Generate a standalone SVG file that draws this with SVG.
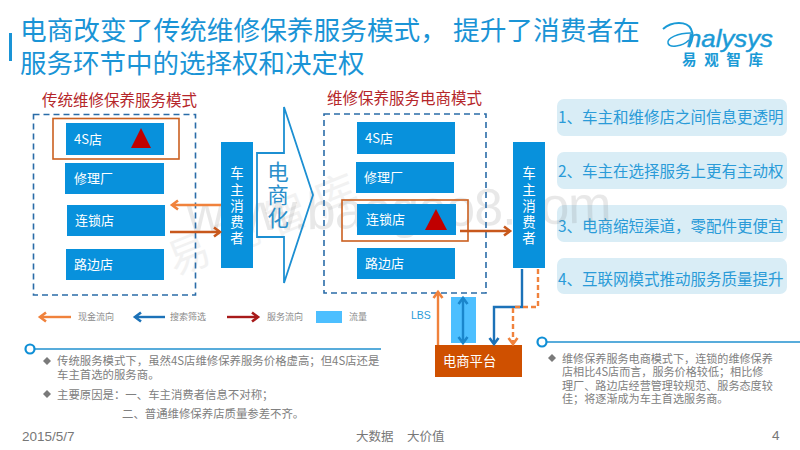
<svg xmlns="http://www.w3.org/2000/svg" width="800" height="450" viewBox="0 0 800 450">
<style>
text{font-family:"Noto Sans CJK SC","Liberation Sans",sans-serif}
.lat{font-family:"Liberation Sans","Noto Sans CJK SC",sans-serif}
.box{fill:#0891dc}
.bt{fill:#fff;font-size:13px}
.vt{fill:#fff;font-size:13.5px;text-anchor:middle}
.dash{fill:none;stroke:#2a6ca8;stroke-width:1.6;stroke-dasharray:6 4}
.sel{fill:none;stroke:#cb6020;stroke-width:1.6}
.tri{fill:#c00000}
.pill{fill:#d9edf6}
.pt{fill:#2a9bd8;font-size:15.5px}
.sub{fill:#b5262a;font-size:15.5px}
.lg{fill:#8a8a8a;font-size:9px}
.note{fill:#808080;font-size:11.4px}
.note2{fill:#808080;font-size:11.1px}
.dia{fill:#7a7a7a}
.foot{fill:#777;font-size:12.5px}
.rule{stroke:#2191cf;stroke-width:1.6;fill:none}
.ring{fill:#fff;stroke:#0f8fd6;stroke-width:2.2}
.ar{fill:none;stroke-width:2.4}
</style>
<defs>
<marker id="mo" markerUnits="userSpaceOnUse" markerWidth="12" markerHeight="12" refX="9" refY="6" orient="auto-start-reverse"><path d="M3,1.500L9,6L3,10.500" fill="none" stroke="#f0823c" stroke-width="2.600"/></marker>
<marker id="md" markerUnits="userSpaceOnUse" markerWidth="12" markerHeight="12" refX="9" refY="6" orient="auto"><path d="M3,1.500L9,6L3,10.500" fill="none" stroke="#c8581c" stroke-width="2.600"/></marker>
<marker id="mb" markerUnits="userSpaceOnUse" markerWidth="12" markerHeight="12" refX="9" refY="6" orient="auto-start-reverse"><path d="M3,1.500L9,6L3,10.500" fill="none" stroke="#1c72b8" stroke-width="2.600"/></marker>
<marker id="mc" markerUnits="userSpaceOnUse" markerWidth="12" markerHeight="12" refX="9" refY="6" orient="auto-start-reverse"><path d="M3,1.500L9,6L3,10.500" fill="none" stroke="#1a86cc" stroke-width="2.600"/></marker>
<marker id="mr" markerUnits="userSpaceOnUse" markerWidth="12" markerHeight="12" refX="9" refY="6" orient="auto"><path d="M3,1.500L9,6L3,10.500" fill="none" stroke="#a81a1a" stroke-width="2.600"/></marker>
</defs>
<rect width="800" height="450" fill="#fff"/>

<g id="pills">
<rect class="pill" x="557" y="99" width="230" height="37" rx="7"/><text class="pt" x="558" y="123">1、车主和维修店之间信息更透明</text>
<rect class="pill" x="557" y="152" width="230" height="37" rx="7"/><text class="pt" x="558" y="177">2、车主在选择服务上更有主动权</text>
<rect class="pill" x="557" y="205" width="230" height="37" rx="7"/><text class="pt" x="558" y="232">3、电商缩短渠道，零配件更便宜</text>
<rect class="pill" x="557" y="258" width="230" height="36" rx="7"/><text class="pt" x="558" y="285">4、互联网模式推动服务质量提升</text>
</g>

<g id="watermark" fill="#777">
<text class="lat" x="187" y="232" font-size="52" opacity="0.16" transform="rotate(-1.300 187 232)" textLength="425">www.baogao8.com</text>
<text x="175" y="276" font-size="42" opacity="0.09" transform="rotate(-22 175 276)" textLength="200">易观智库</text>
</g>

<g id="title">
<rect x="9" y="33" width="3" height="28" fill="#1a94d6"/>
<text x="20" y="40" font-size="26.700" fill="#1a94d6">电商改变了传统维修保养服务模式， 提升了消费者在</text>
<text x="20" y="73" font-size="26.500" fill="#1a94d6">服务环节中的选择权和决定权</text>
</g>

<g id="logo">
<path d="M663,29C672,21 687,21 691,29C694,35 692,42 689,47" fill="none" stroke="#1a9ad6" stroke-width="2"/>
<path d="M691,33C678,33 667,38 668,43C669,48 682,47 689,40" fill="none" stroke="#1a9ad6" stroke-width="1.500"/>
<text class="lat" x="687" y="47" font-size="24" font-style="italic" fill="#1a9ad6" stroke="#1a9ad6" stroke-width="0.400" textLength="86" lengthAdjust="spacingAndGlyphs">nalysys</text>
<text x="682" y="65" font-size="14.500" font-weight="bold" fill="#1a9ad6" textLength="81">易观智库</text>
</g>

<text class="sub" x="42" y="105.500">传统维修保养服务模式</text>
<text class="sub" x="327" y="103.500">维修保养服务电商模式</text>

<g id="traditional-frame"><rect class="dash" x="33.500" y="114.500" width="162" height="180.500"/></g>
<g id="t-4s"><rect class="box" x="66" y="123" width="98" height="32"/><text class="bt" x="74" y="144">4S店</text><path class="tri" d="M131,148L151,148L141,128Z"/><rect class="sel" x="53" y="118.500" width="126" height="40.500"/></g>
<g id="t-repair"><rect class="box" x="65" y="163" width="99" height="31"/><text class="bt" x="74" y="183">修理厂</text></g>
<g id="t-chain"><rect class="box" x="67" y="205" width="98" height="31"/><text class="bt" x="75" y="225">连锁店</text></g>
<g id="t-road"><rect class="box" x="66" y="249" width="98" height="31"/><text class="bt" x="74" y="269">路边店</text></g>
<g id="t-owner"><rect class="box" x="221" y="142" width="32" height="126"/>
<text class="vt" x="237" y="178">车</text><text class="vt" x="237" y="195">主</text><text class="vt" x="237" y="211">消</text><text class="vt" x="237" y="227">费</text><text class="vt" x="237" y="243">者</text></g>

<g id="transform"><path d="M257,153H284V107L313,195L284,283V237H257Z" fill="none" stroke="#1c8fd2" stroke-width="1.800"/>
<g font-size="21.500" fill="#2a8fcb" text-anchor="middle"><text x="278" y="180">电</text><text x="278" y="203">商</text><text x="278" y="226">化</text></g></g>

<g id="ecommerce-frame"><rect class="dash" x="324" y="114" width="162" height="179"/></g>
<g id="e-4s"><rect class="box" x="357" y="122" width="98" height="32"/><text class="bt" x="365" y="143">4S店</text></g>
<g id="e-repair"><rect class="box" x="356" y="162" width="98" height="31"/><text class="bt" x="364" y="182">修理厂</text></g>
<g id="e-chain"><rect class="box" x="357" y="204" width="99" height="31"/><text class="bt" x="366" y="224">连锁店</text><path class="tri" d="M425,230L447,230L436,209Z"/><rect class="sel" x="342" y="200" width="126" height="41"/></g>
<g id="e-road"><rect class="box" x="357" y="248" width="98" height="31"/><text class="bt" x="365" y="268">路边店</text></g>
<g id="e-owner"><rect class="box" x="513" y="142" width="32" height="126"/>
<text class="vt" x="529" y="178">车</text><text class="vt" x="529" y="195">主</text><text class="vt" x="529" y="211">消</text><text class="vt" x="529" y="227">费</text><text class="vt" x="529" y="243">者</text></g>

<g id="platform"><rect x="435" y="345" width="87" height="32" fill="#cf5000"/><text x="443" y="366" font-size="13.300" fill="#fff">电商平台</text></g>
<rect x="451" y="297" width="25" height="46" fill="#4dbfff"/>

<g id="connectors">
<path class="ar" d="M221,205H172" stroke="#f0823c" marker-end="url(#mo)"/>
<path class="ar" d="M170,232H220" stroke="#c8581c" marker-end="url(#md)"/>
<path class="ar" d="M460,231H510" stroke="#c8581c" marker-end="url(#md)"/>
<path class="ar" d="M438,345V292" stroke="#f0823c" marker-end="url(#mo)"/>
<path class="ar" d="M463,298V343" stroke="#1a86cc" marker-start="url(#mc)" marker-end="url(#mc)"/>
<path class="ar" d="M522,269V307H494V344" stroke="#1c72b8" marker-end="url(#mb)"/>
<path class="ar" d="M538,269V307H513V344" stroke="#f0823c" stroke-dasharray="5 3" marker-end="url(#mo)"/>
</g>
<text x="411" y="319" font-size="10.500" fill="#2a9bd8" class="lat">LBS</text>

<g id="legend">
<path class="ar" d="M71,317H40" stroke="#f0823c" marker-end="url(#mo)"/><text class="lg" x="78" y="320">现金流向</text>
<path class="ar" d="M165,317H135" stroke="#1c72b8" marker-end="url(#mb)"/><text class="lg" x="170" y="320">搜索筛选</text>
<path class="ar" d="M227,317H258" stroke="#a81a1a" marker-end="url(#mr)"/><text class="lg" x="267" y="320">服务流向</text>
<rect x="316" y="311" width="26" height="12" fill="#4dbfff"/><text class="lg" x="349" y="320">流量</text>
</g>

<g id="note-left">
<path class="rule" d="M34,349H381"/><circle class="ring" cx="30" cy="349" r="4.500"/>
<path class="dia" d="M47,357L51,361L47,365L43,361Z"/>
<text class="note" x="57" y="365">传统服务模式下，虽然4S店维修保养服务价格虚高；但4S店还是</text>
<text class="note" x="57" y="379">车主首选的服务商。</text>
<path class="dia" d="M47,390L51,394L47,398L43,394Z"/>
<text class="note" x="57" y="399">主要原因是：一、车主消费者信息不对称；</text>
<text class="note" x="122" y="418">二、普通维修保养店质量参差不齐。</text>
</g>

<g id="note-right">
<path class="rule" d="M547,342H800"/><circle class="ring" cx="542" cy="342" r="4.500"/>
<path class="dia" d="M552,354L556,358L552,362L548,358Z"/>
<text class="note2" x="562" y="363">维修保养服务电商模式下，连锁的维修保养</text>
<text class="note2" x="562" y="376">店相比4S店而言，服务价格较低；相比修</text>
<text class="note2" x="562" y="390">理厂、路边店经营管理较规范、服务态度较</text>
<text class="note2" x="562" y="403">佳；将逐渐成为车主首选服务商。</text>
</g>

<g id="footer">
<text class="foot lat" x="22" y="441" style="font-size:13.500px">2015/5/7</text>
<text class="foot" x="356" y="441">大数据</text>
<text class="foot" x="407" y="441">大价值</text>
<text class="foot lat" x="772" y="440" style="font-size:13.500px">4</text>
</g>
</svg>
